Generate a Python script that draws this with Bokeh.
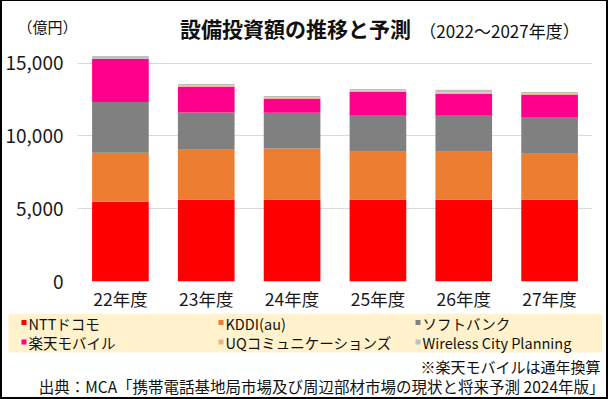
from bokeh.plotting import figure
from bokeh.layouts import column
from bokeh.models import (FactorRange, Range1d, FixedTicker, NumeralTickFormatter,
                          Label, BoxAnnotation, GlobalInlineStyleSheet)
from bokeh.embed import file_html
from bokeh.resources import INLINE

# ---- data (億円) ----
categories = ["22年度", "23年度", "24年度", "25年度", "26年度", "27年度"]
ntt = [5480, 5620, 5620, 5620, 5620, 5620]
kddi = [3360, 3420, 3510, 3290, 3290, 3150]
softbank = [3490, 2560, 2460, 2470, 2470, 2530]
rakuten = [2970, 1780, 960, 1640, 1510, 1510]
uq = [0, 95, 95, 90, 90, 110]
wcp = [180, 90, 90, 115, 180, 90]

series_names = ["NTTドコモ", "KDDI(au)", "ソフトバンク", "楽天モバイル",
                "UQコミュニケーションズ", "Wireless City Planning"]
series_keys = ["ntt", "kddi", "softbank", "rakuten", "uq", "wcp"]
colors = ["#FF0000", "#ED7D31", "#808080", "#FF008C", "#F4B183", "#BFBFBF"]
y_ticks = [0, 5000, 10000, 15000]

title_text = "設備投資額の推移と予測"
subtitle_text = "（2022～2027年度）"
unit_text = "（億円）"
note_text = "※楽天モバイルは通年換算"
source_text = "出典：MCA「携帯電話基地局市場及び周辺部材市場の現状と将来予測 2024年版」"

FONT = "Noto Sans CJK JP"
W, H = 608, 399
TOP_H = 48          # header strip   (0..48)
CHART_H = 265       # chart strip    (48..313)
BOT_H = H - TOP_H - CHART_H   # footer strip (313..399)

# ---------------- chart ----------------
p = figure(width=W, height=CHART_H, x_range=FactorRange(*categories),
           y_range=Range1d(0, 16000), output_backend="svg",
           toolbar_location=None, min_border_left=77, min_border_right=W - 592,
           min_border_top=0, min_border_bottom=CHART_H - (281 - TOP_H))
p.frame_align = False
data = dict(cat=categories, ntt=ntt, kddi=kddi, softbank=softbank,
            rakuten=rakuten, uq=uq, wcp=wcp)
p.vbar_stack(series_keys, x="cat", width=0.66, color=colors, source=data,
             line_width=0)
p.outline_line_color = None
p.border_fill_color = None
p.background_fill_color = None
p.xgrid.grid_line_color = None
p.ygrid.grid_line_color = "#D9D9D9"
p.ygrid.ticker = FixedTicker(ticks=y_ticks)
p.yaxis.ticker = FixedTicker(ticks=y_ticks)
p.yaxis.formatter = NumeralTickFormatter(format="0,0")
for ax in (p.xaxis[0], p.yaxis[0]):
    ax.axis_line_color = None
    ax.major_tick_line_color = None
    ax.minor_tick_line_color = None
    ax.major_tick_out = 0
    ax.major_tick_in = 0
    ax.minor_tick_out = 0
    ax.minor_tick_in = 0
    ax.major_label_text_font = FONT
    ax.major_label_text_color = "#1a1a1a"
p.yaxis.major_label_text_font_size = "19px"
p.yaxis.major_label_standoff = 14
p.xaxis.major_label_text_font_size = "17.5px"
p.xaxis.major_label_standoff = 4

# ---------------- header / footer strips (pixel-space figures) ----------------
def strip(y0, y1):
    f = figure(width=W, height=y1 - y0, x_range=Range1d(0, W),
               y_range=Range1d(y1, y0), x_axis_type=None, y_axis_type=None,
               output_backend="svg", toolbar_location=None, min_border=0)
    f.frame_align = False
    f.outline_line_color = None
    f.border_fill_color = None
    f.background_fill_color = None
    f.grid.visible = False
    return f

def add_label(f, text, x, y, size, align="left", bold=False, color="#111111"):
    f.add_layout(Label(x=x, y=y, text=text, text_font=FONT, text_font_size=size,
                       text_align=align, text_baseline="middle", text_color=color,
                       text_font_style="bold" if bold else "normal"))

top = strip(0, TOP_H)
add_label(top, title_text, 295, 27, "21px", align="center", bold=True)
add_label(top, subtitle_text, 499, 30, "17px", align="center")
add_label(top, unit_text, 47, 26, "15px", align="center")

bot = strip(TOP_H + CHART_H, H)
bot.add_layout(BoxAnnotation(left=8, right=602, top=313, bottom=352,
                             fill_color="#FFF2CC", fill_alpha=1, line_color=None))
col_x = [21, 218, 415]
row_y = [322.5, 342]
for i, (name, c) in enumerate(zip(series_names, colors)):
    cx = col_x[i % 3]
    cy = row_y[i // 3]
    bot.add_layout(BoxAnnotation(left=cx, right=cx + 5, top=cy - 3, bottom=cy + 2,
                                 fill_color=c, fill_alpha=1, line_color=None))
    add_label(bot, name, cx + 7, cy, "14.5px")
add_label(bot, note_text, 600, 365.5, "15px", align="right")
add_label(bot, source_text, 604, 385.5, "15.5px", align="right")

frame_bg = ("linear-gradient(#000,#000) left top / 2px 100% no-repeat, "
            "linear-gradient(#000,#000) right top / 2px 100% no-repeat, "
            "linear-gradient(#000,#000) left top / 100% 1px no-repeat, "
            "linear-gradient(#000,#000) left bottom / 100% 2px no-repeat, #ffffff")

layout = column(top, p, bot, spacing=0, styles={"background": frame_bg})
layout.stylesheets = [GlobalInlineStyleSheet(css="body{margin:0 !important;}")]

open("out.html", "w").write(file_html(layout, INLINE))
